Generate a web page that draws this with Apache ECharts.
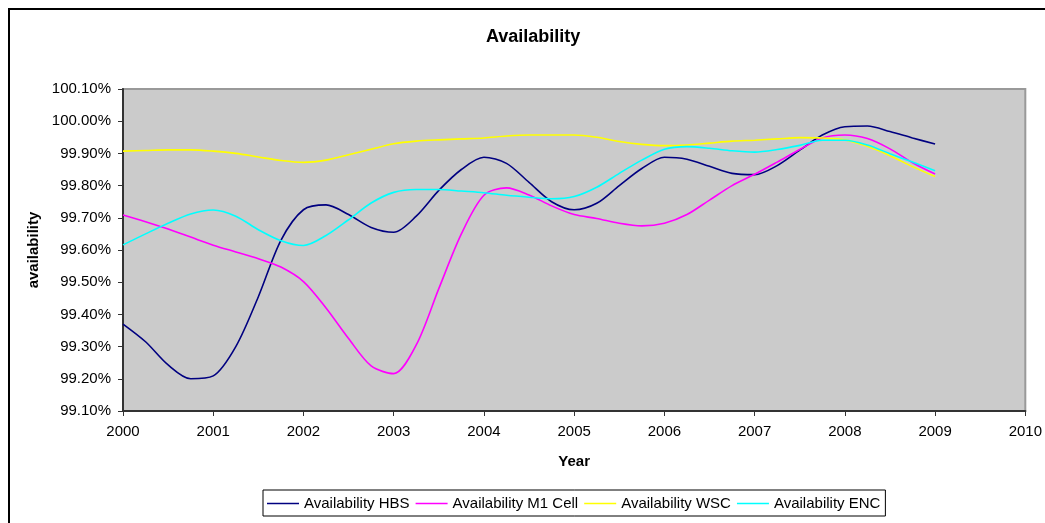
<!DOCTYPE html>
<html>
<head>
<meta charset="utf-8">
<script src="https://cdn.jsdelivr.net/npm/echarts@6/dist/echarts.min.js"></script>
<style>
  html, body { margin: 0; padding: 0; background: #fff; }
  #availability { width: 1045px; height: 523px; }
</style>
</head>
<body>
<div id="availability"></div>
<script>
// quarterly sample points, 2000 .. 2009
const quarters = [
  2000, 2000.25, 2000.5, 2000.75, 2001, 2001.25, 2001.5, 2001.75,
  2002, 2002.25, 2002.5, 2002.75, 2003, 2003.25, 2003.5, 2003.75,
  2004, 2004.25, 2004.5, 2004.75, 2005, 2005.25, 2005.5, 2005.75,
  2006, 2006.25, 2006.5, 2006.75, 2007, 2007.25, 2007.5, 2007.75,
  2008, 2008.25, 2008.5, 2008.75, 2009
]

const hbs = [
  99.370, 99.315, 99.243, 99.200, 99.209, 99.300, 99.455, 99.630,
  99.725, 99.740, 99.710, 99.670, 99.655, 99.705, 99.785, 99.850,
  99.888, 99.869, 99.810, 99.750, 99.725, 99.745, 99.800, 99.853,
  99.888, 99.882, 99.860, 99.838, 99.834, 99.862, 99.910, 99.957,
  99.983, 99.985, 99.968, 99.948, 99.929
]

const m1Cell = [
  99.709, 99.688, 99.665, 99.640, 99.615, 99.594, 99.573, 99.547,
  99.502, 99.420, 99.325, 99.240, 99.216, 99.305, 99.480, 99.650,
  99.770, 99.793, 99.771, 99.737, 99.710, 99.698, 99.683, 99.675,
  99.683, 99.710, 99.755, 99.800, 99.835, 99.873, 99.912, 99.948,
  99.957, 99.946, 99.914, 99.871, 99.836
]

const wsc = [
  99.907, 99.909, 99.911, 99.911, 99.907, 99.900, 99.889, 99.878,
  99.872, 99.879, 99.896, 99.913, 99.930, 99.938, 99.942, 99.945,
  99.948, 99.954, 99.957, 99.957, 99.957, 99.950, 99.937, 99.928,
  99.924, 99.926, 99.932, 99.938, 99.941, 99.945, 99.949, 99.948,
  99.942, 99.922, 99.893, 99.859, 99.828
]

const enc = [
  99.616, 99.650, 99.683, 99.712, 99.724, 99.705, 99.663, 99.629,
  99.614, 99.645, 99.694, 99.746, 99.779, 99.788, 99.788, 99.783,
  99.778, 99.770, 99.764, 99.759, 99.766, 99.795, 99.838, 99.879,
  99.913, 99.921, 99.916, 99.908, 99.904, 99.912, 99.925, 99.941,
  99.941, 99.926, 99.899, 99.873, 99.846
]

const seriesNames = ['Availability HBS', 'Availability M1 Cell', 'Availability WSC', 'Availability ENC']
const seriesColors = ['#000080', '#FF00FF', '#FFFF00', '#00FFFF']

function pairs (values) {
  return quarters.map((q, i) => [q, values[i]])
}

const chart = echarts.init(document.getElementById('availability'))
const font = 'Liberation Sans, Arial, sans-serif'

const option = {
  animation: false,
  textStyle: { fontFamily: font },
  title: {
    text: 'Availability',
    left: 481,
    top: 23,
    textStyle: { fontFamily: font, fontSize: 18, fontWeight: 'bold', color: '#000' }
  },
  graphic: [{
    type: 'rect',
    shape: { x: 9, y: 9, width: 1060, height: 540 },
    style: { fill: 'none', stroke: '#000', lineWidth: 2 },
    silent: true,
    z: -1
  }],
  legend: {
    data: seriesNames,
    left: 263,
    top: 490,
    orient: 'horizontal',
    icon: 'rect',
    itemWidth: 32,
    itemHeight: 1.5,
    itemGap: 6,
    padding: [6, 5, 5, 4],
    borderColor: '#000',
    borderWidth: 1,
    textStyle: { fontFamily: font, fontSize: 15, color: '#000' }
  },
  grid: {
    left: 123,
    top: 89,
    right: 18,
    bottom: 112,
    show: true,
    backgroundColor: '#CBCBCB',
    borderColor: '#999999',
    borderWidth: 2
  },
  xAxis: {
    type: 'value',
    min: 2000,
    max: 2010,
    interval: 1,
    name: 'Year',
    nameLocation: 'middle',
    nameGap: 43,
    nameTextStyle: { fontFamily: font, fontSize: 15, fontWeight: 'bold', color: '#000' },
    axisLine: { show: true, lineStyle: { color: '#333', width: 2 } },
    axisTick: { show: true, length: 5, inside: false, lineStyle: { color: '#333' } },
    axisLabel: { margin: 13, fontSize: 15, color: '#000', formatter: v => String(v) },
    splitLine: { show: false }
  },
  yAxis: {
    type: 'value',
    min: 99.1,
    max: 100.1,
    interval: 0.1,
    name: 'availability',
    nameLocation: 'middle',
    nameGap: 79,
    nameRotate: 90,
    nameTextStyle: { fontFamily: font, fontSize: 15, fontWeight: 'bold', color: '#000' },
    axisLine: { show: true, lineStyle: { color: '#333', width: 2 } },
    axisTick: { show: true, length: 5, inside: false, lineStyle: { color: '#333' } },
    axisLabel: { margin: 12, fontSize: 15, color: '#000', formatter: v => v.toFixed(2) + '%' },
    splitLine: { show: false }
  },
  series: [hbs, m1Cell, wsc, enc].map((values, i) => ({
    name: seriesNames[i],
    type: 'line',
    data: pairs(values),
    smooth: 0.3,
    showSymbol: false,
    symbol: 'none',
    color: seriesColors[i],
    lineStyle: { color: seriesColors[i], width: 1.6 }
  }))
}

chart.setOption(option)
</script>
</body>
</html>
